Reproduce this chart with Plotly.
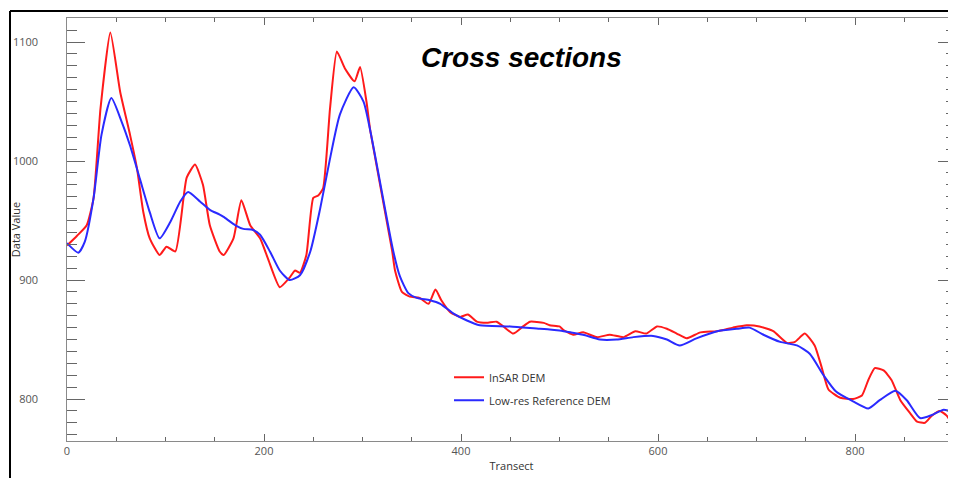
import plotly.graph_objects as go

# ---- data ----
insar_x = [0, 10, 20, 27, 34, 44, 54, 64, 71, 77.5, 84, 94, 101, 110, 121.5, 130, 138, 145, 155, 159,
           169, 177, 186, 196, 204, 216, 226, 231.5, 236.5, 243, 250, 255, 260, 267, 274, 282, 292, 297.5,
           304, 308, 330, 333, 340, 348, 358, 367, 374, 380, 389, 399, 407, 416, 426, 436, 443, 453, 463,
           470, 484, 490, 500, 504, 514, 524, 538, 551, 565, 577, 588, 599, 609, 619, 629, 643, 660, 676,
           690, 703, 717, 731, 739, 749, 759, 766, 773, 785, 798, 807, 813.5, 820, 829, 837, 846, 856, 863,
           871, 878, 886, 893, 900]
insar_y = [929, 937, 946, 969, 1044, 1108, 1058, 1022, 994, 957, 935, 921, 928, 924, 986, 997, 980, 946, 924, 921,
           935, 967, 946, 935, 918, 894, 902, 908, 906, 921, 969, 971, 977, 1044, 1092, 1078, 1067, 1079,
           1050, 1025, 925, 908, 890, 886, 885, 880, 892, 883, 873, 869, 871, 865, 864, 865, 861, 855, 861,
           865, 864, 862, 861, 858, 854, 856, 852, 854, 852, 857, 855, 861, 859, 855, 851, 856, 857, 860,
           862, 861, 857, 847, 848, 855, 845, 827, 808, 801, 800, 803, 816, 826, 824, 816, 799, 788, 781,
           780, 786, 790, 786, 777]

ref_x = [0, 11.5, 18, 27, 35, 45, 55.5, 64, 74, 84, 94, 105, 115, 123, 135, 145, 155, 159, 171, 179, 189,
         196, 206, 216, 226, 236.5, 247, 257, 267, 277, 291, 301, 308, 331, 338, 346.5, 355, 368.5, 379, 392,
         406, 419, 450, 480, 490, 500, 511, 524, 541, 558, 575, 595, 609, 622, 639, 660, 680, 693, 707, 724,
         741, 754, 768, 781, 798, 813.5, 825, 841, 852.5, 866, 878, 890, 900]
ref_y = [931, 923, 932, 969, 1022, 1053, 1033, 1013, 985, 957, 935, 949, 966, 974, 966, 959, 955, 953, 946, 943, 942,
         938, 924, 908, 900, 904, 924, 960, 1002, 1039, 1062, 1050, 1025, 925, 903, 889, 885, 883, 880, 872,
         866, 862, 861, 859, 858.5, 857.5, 856, 854, 850, 850, 852, 853, 850, 845, 851, 857, 859, 860, 854, 848,
         845, 838, 820, 806, 798, 792, 799, 807, 799, 784, 786.5, 791, 788.5]

series_names = ["InSAR DEM", "Low-res Reference DEM"]
title_text = "Cross sections"
x_title = "Transect"
y_title = "Data Value"

FONT = "Open Sans"

# page body adds an 8px offset; plot area in figure coords
L, T, PW, PH = 59, 10, 889, 423

fig = go.Figure()
fig.add_trace(go.Scatter(x=insar_x, y=insar_y, mode="lines", name=series_names[0],
                         legendgroup="a",
                         line=dict(color="#ff1a1a", width=2, shape="spline", smoothing=0.5)))
fig.add_trace(go.Scatter(x=ref_x, y=ref_y, mode="lines", name=series_names[1],
                         legendgroup="b",
                         line=dict(color="#2a2aff", width=2, shape="spline", smoothing=0.6)))

axis_common = dict(
    showgrid=False, zeroline=False, showline=True, linecolor="#8a8a8a", linewidth=1,
    ticks="inside", tickcolor="#666666", mirror="ticks", automargin=False,
    tickfont=dict(family=FONT, size=11, color="#555555"),
)

fig.update_layout(
    width=956, height=478,
    margin=dict(l=L, r=956 - L - PW, t=T, b=478 - T - PH, autoexpand=False),
    paper_bgcolor="white", plot_bgcolor="white",
    showlegend=True,
    legend=dict(x=(449 - 67) / PW, y=0.185, xanchor="left", yanchor="top",
                bgcolor="rgba(0,0,0,0)", tracegroupgap=4,
                font=dict(family=FONT, size=11, color="#333333")),
    xaxis=dict(range=[0, 902.5], dtick=200, tick0=0, ticklen=7,
               minor=dict(dtick=50, ticklen=4, ticks="inside", tickcolor="#666666"),
               title=dict(text=x_title, font=dict(family=FONT, size=11, color="#333333"), standoff=5),
               **axis_common),
    yaxis=dict(range=[764.7, 1120.2], dtick=100, tick0=800, ticklen=18,
               minor=dict(dtick=10, ticklen=10, ticks="inside", tickcolor="#666666"),
               ticklabelstandoff=20, ticksuffix="\u00a0\u00a0",
               title=dict(text=y_title, font=dict(family=FONT, size=11, color="#333333"), standoff=2),
               **axis_common),
)

fig.add_annotation(text="<b><i>" + title_text + "</i></b>", xref="paper", yref="paper",
                   x=(521 - 67) / PW, y=(441 - 57) / PH, xanchor="center", yanchor="middle", showarrow=False,
                   font=dict(family="Liberation Sans", size=28, color="black"))

# outer frame (left and top edges visible in the reference)
fx = (10 - 67) / PW
fy = (441 - 11) / PH
fig.add_shape(type="line", xref="paper", yref="paper", x0=fx, x1=1.05,
              y0=fy, y1=fy, line=dict(color="black", width=2))
fig.add_shape(type="line", xref="paper", yref="paper", x0=fx, x1=fx,
              y0=fy, y1=-0.2, line=dict(color="black", width=2))

fig.write_html("out.html")
